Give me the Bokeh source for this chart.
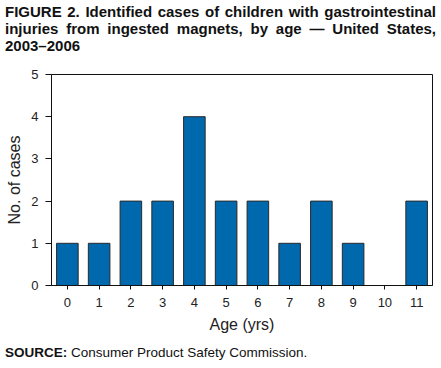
from bokeh.plotting import figure
from bokeh.models import Div, FixedTicker, Range1d, ColumnDataSource
from bokeh.layouts import column
from bokeh.embed import file_html
from bokeh.resources import INLINE

ages = [0, 1, 2, 3, 4, 5, 6, 7, 8, 9, 10, 11]
cases = [1, 1, 2, 2, 4, 2, 2, 1, 2, 1, 0, 2]
y_ticks = [0, 1, 2, 3, 4, 5]

title_lines = [
    "FIGURE 2. Identified cases of children with gastrointestinal",
    "injuries from ingested magnets, by age \u2014 United States,",
    "2003\u20132006",
]

FONT = "'Liberation Sans', Arial, Helvetica, sans-serif"
W = 438

html = ""
for i, line in enumerate(title_lines):
    last = "justify" if i < len(title_lines) - 1 else "left"
    html += (f'<div style="text-align:justify;text-align-last:{last};'
             f'white-space:nowrap;">{line}</div>')
title_div = Div(
    text=f'<div style="font-family:{FONT};font-weight:bold;font-size:15px;'
         f'line-height:17px;color:#111;width:431px;margin-left:5px;'
         f'padding-top:3px;">{html}</div>',
    width=W, height=66, margin=(0, 0, 0, 0),
)

src = ColumnDataSource(dict(x=ages, y=cases))
p = figure(width=W, height=274, output_backend="svg", toolbar_location=None,
           x_range=Range1d(-0.5, 11.5), y_range=Range1d(0, 5),
           min_border_left=51, min_border_right=6, min_border_top=8,
           min_border_bottom=55)
p.vbar(x="x", top="y", width=0.68, source=src, fill_color="#0068ad",
       line_color="#2a2a2a", line_width=1)

p.xgrid.visible = False
p.ygrid.visible = False
p.outline_line_color = "#111111"
p.outline_line_width = 1
p.background_fill_color = "white"
p.border_fill_color = "white"

for ax in (p.xaxis[0], p.yaxis[0]):
    ax.axis_line_color = "#111111"
    ax.major_tick_line_color = "#111111"
    ax.major_tick_in = 0
    ax.minor_tick_line_color = None
    ax.major_label_text_font = "Liberation Sans"
    ax.major_label_text_font_size = "13px"
    ax.major_label_text_color = "#222222"
    ax.axis_label_text_font = "Liberation Sans"
    ax.axis_label_text_font_style = "normal"
    ax.axis_label_text_color = "#222222"
    ax.axis_label_text_font_size = "16px"

p.xaxis.major_tick_out = 4
p.yaxis.major_tick_out = 6
p.xaxis.ticker = FixedTicker(ticks=ages)
p.yaxis.ticker = FixedTicker(ticks=y_ticks)
p.xaxis.axis_label = "Age (yrs)"
p.yaxis.axis_label = "No. of cases"
p.xaxis.major_label_standoff = 8
p.yaxis.major_label_standoff = 7
p.xaxis.axis_label_standoff = 6
p.yaxis.axis_label_standoff = 5

source_div = Div(
    text=f'<div style="font-family:{FONT};font-size:13.5px;color:#111;'
         f'line-height:16px;padding-top:5px;margin-left:5px;white-space:nowrap;">'
         f'<b>SOURCE:</b> Consumer Product Safety Commission.</div>',
    width=W, height=26, margin=(0, 0, 0, 0),
)

layout = column(title_div, p, source_div, spacing=0)
open("out.html", "w").write(file_html(layout, INLINE))
